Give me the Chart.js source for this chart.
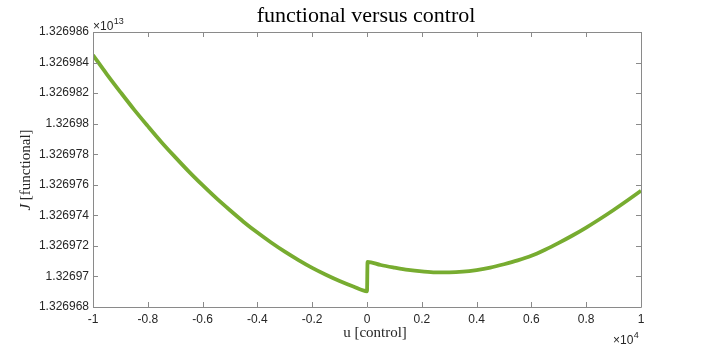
<!DOCTYPE html>
<html>
<head>
<meta charset="utf-8">
<script src="https://cdn.jsdelivr.net/npm/chart.js@4"></script>
<style>
  html, body { margin: 0; padding: 0; background: #fff; }
  #wrap { width: 708px; height: 346px; }
</style>
</head>
<body>
<div id="wrap"><canvas id="chart" width="708" height="346"></canvas></div>
<script>
// control u (x 10^4) and functional J (x 10^13)
const controlU = [
  -1, -0.95, -0.9, -0.85, -0.8, -0.75, -0.7, -0.65, -0.6, -0.55, -0.5,
  -0.45, -0.4, -0.35, -0.3, -0.25, -0.2, -0.15, -0.1, -0.05, 0,
  0.002, 0.05, 0.1, 0.15, 0.2, 0.25, 0.3, 0.35, 0.4, 0.45, 0.5,
  0.55, 0.6, 0.65, 0.7, 0.75, 0.8, 0.85, 0.9, 0.95, 1
];
const functionalJ = [
  1.32698449, 1.32698325, 1.32698207, 1.32698092, 1.32697984, 1.32697879,
  1.32697781, 1.32697686, 1.32697597, 1.32697512, 1.32697433, 1.32697357,
  1.32697287, 1.32697222, 1.32697162, 1.32697107, 1.32697056, 1.32697011,
  1.3269697, 1.32696934, 1.32696903,
  1.32697096, 1.32697075, 1.32697058, 1.32697043, 1.32697033, 1.32697027,
  1.32697027, 1.32697031, 1.32697042, 1.32697058, 1.3269708, 1.32697105,
  1.32697135, 1.32697175, 1.3269722, 1.32697268, 1.3269732, 1.32697376,
  1.32697435, 1.32697497, 1.32697561
];
const xTicks = [-1, -0.8, -0.6, -0.4, -0.2, 0, 0.2, 0.4, 0.6, 0.8, 1];
const yTicks = [1.326968, 1.32697, 1.326972, 1.326974, 1.326976, 1.326978,
  1.32698, 1.326982, 1.326984, 1.326986];

const axisGray = '#8a8a8a';
const textGray = '#262626';
const sans = '"Liberation Sans", Arial, sans-serif';
const serif = '"Liberation Serif", "Times New Roman", serif';

// draws "x10" with a raised exponent right after it
function drawExponent(ctx, x, y, exp) {
  ctx.font = '12px ' + sans;
  ctx.fillText('\u00d710', x, y);
  const w = ctx.measureText('\u00d710').width;
  ctx.font = '9px ' + sans;
  ctx.fillText(exp, x + w + 0.5, y - 6);
}

// MATLAB style box, inward ticks, title, labels and exponents
const matlabAxes = {
  id: 'matlabAxes',
  afterDraw(chart) {
    const ctx = chart.ctx;
    const { left, right, top, bottom } = chart.chartArea;
    const xs = chart.scales.x, ys = chart.scales.y;
    const tl = 5;
    ctx.save();
    ctx.strokeStyle = axisGray;
    ctx.lineWidth = 1;
    ctx.beginPath();
    ctx.rect(Math.round(left) + 0.5, Math.round(top) + 0.5,
      Math.round(right - left), Math.round(bottom - top));
    xTicks.forEach(v => {
      const p = Math.round(xs.getPixelForValue(v)) + 0.5;
      ctx.moveTo(p, bottom); ctx.lineTo(p, bottom - tl);
      ctx.moveTo(p, top); ctx.lineTo(p, top + tl);
    });
    yTicks.forEach(v => {
      const p = Math.round(ys.getPixelForValue(v)) + 0.5;
      ctx.moveTo(left, p); ctx.lineTo(left + tl, p);
      ctx.moveTo(right, p); ctx.lineTo(right - tl, p);
    });
    ctx.stroke();

    ctx.fillStyle = textGray;
    ctx.textAlign = 'left';
    ctx.textBaseline = 'alphabetic';
    drawExponent(ctx, 93, 30, '13');
    drawExponent(ctx, 613, 344, '4');

    // title
    ctx.fillStyle = '#000';
    ctx.textAlign = 'center';
    ctx.font = '22px ' + serif;
    ctx.fillText('functional versus control', 366, 22);

    // x label
    ctx.fillStyle = textGray;
    ctx.font = '15px ' + serif;
    ctx.fillText('u [control]', 375, 337);

    // y label (rotated)
    ctx.translate(30, 170);
    ctx.rotate(-Math.PI / 2);
    ctx.textAlign = 'left';
    const rest = ' [functional]';
    ctx.font = 'italic 15px ' + serif;
    const wJ = ctx.measureText('J').width;
    ctx.font = '15px ' + serif;
    const wR = ctx.measureText(rest).width;
    const x0 = -(wJ + wR) / 2;
    ctx.font = 'italic 15px ' + serif;
    ctx.fillText('J', x0, 0);
    ctx.font = '15px ' + serif;
    ctx.fillText(rest, x0 + wJ, 0);
    ctx.restore();
  }
};

new Chart(document.getElementById('chart'), {
  type: 'line',
  data: {
    datasets: [{
      data: controlU.map((u, i) => ({ x: u, y: functionalJ[i] })),
      borderColor: '#77AC30',
      borderWidth: 3.8,
      pointRadius: 0,
      cubicInterpolationMode: 'monotone',
      fill: false
    }]
  },
  options: {
    responsive: false,
    animation: false,
    layout: { padding: { left: 0, right: 67, top: 32, bottom: 0 } },
    plugins: {
      legend: { display: false },
      title: { display: false },
      tooltip: { enabled: false }
    },
    scales: {
      x: {
        type: 'linear',
        min: -1,
        max: 1,
        afterBuildTicks: s => { s.ticks = xTicks.map(v => ({ value: v })); },
        afterFit: s => { s.height = 39; },
        grid: { display: false, drawTicks: false },
        border: { display: false },
        ticks: {
          padding: 5,
          color: textGray,
          font: { family: sans, size: 12 },
          maxRotation: 0,
          callback: v => String(Number(v.toFixed(1)))
        }
      },
      y: {
        type: 'linear',
        min: 1.326968,
        max: 1.326986,
        afterBuildTicks: s => { s.ticks = yTicks.map(v => ({ value: v })); },
        afterFit: s => { s.width = 93; },
        grid: { display: false, drawTicks: false },
        border: { display: false },
        ticks: {
          padding: 4,
          color: textGray,
          font: { family: sans, size: 12 },
          callback: v => String(Number(v.toFixed(6)))
        }
      }
    }
  },
  plugins: [matlabAxes]
});
</script>
</body>
</html>
